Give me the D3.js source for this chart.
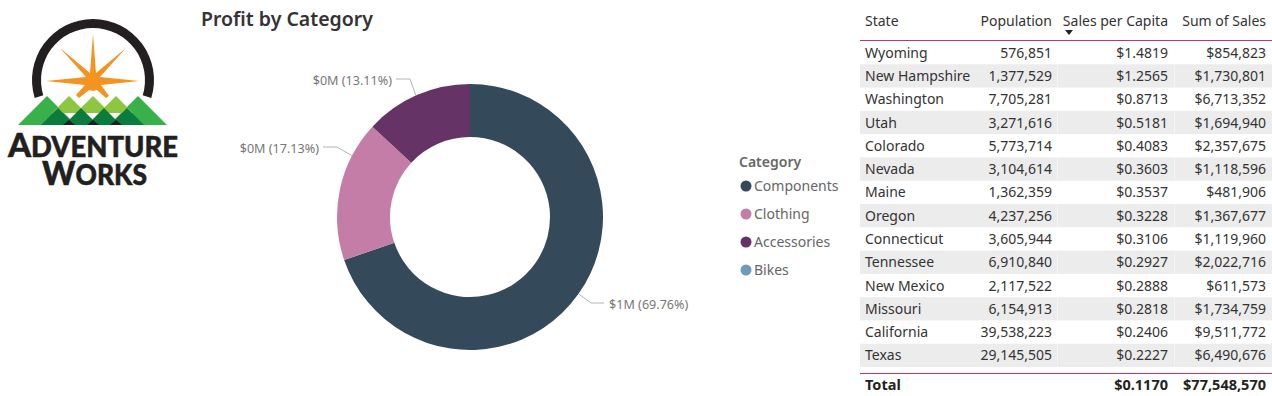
<!DOCTYPE html>
<html>
<head>
<meta charset="utf-8">
<script src="https://cdn.jsdelivr.net/npm/d3@7"></script>
<style>
  html, body { margin: 0; padding: 0; background: #fff; overflow: hidden; }
  text { font-family: "Noto Sans", "Open Sans", sans-serif; }
</style>
</head>
<body>
<script>
// donut
const categories = ["Components", "Clothing", "Accessories", "Bikes"];
const profitShare = [69.76, 17.13, 13.11, 0];
const profitLabels = ["$1M", "$0M", "$0M", ""];
const categoryColors = ["#34495a", "#c47da6", "#663366", "#6f9bbb"];

// table
const columns = ["State", "Population", "Sales per Capita", "Sum of Sales"];
const states = ["Wyoming", "New Hampshire", "Washington", "Utah", "Colorado", "Nevada", "Maine", "Oregon", "Connecticut", "Tennessee", "New Mexico", "Missouri", "California", "Texas"];
const population = ["576,851", "1,377,529", "7,705,281", "3,271,616", "5,773,714", "3,104,614", "1,362,359", "4,237,256", "3,605,944", "6,910,840", "2,117,522", "6,154,913", "39,538,223", "29,145,505"];
const salesPerCapita = ["$1.4819", "$1.2565", "$0.8713", "$0.5181", "$0.4083", "$0.3603", "$0.3537", "$0.3228", "$0.3106", "$0.2927", "$0.2888", "$0.2818", "$0.2406", "$0.2227"];
const sumOfSales = ["$854,823", "$1,730,801", "$6,713,352", "$1,694,940", "$2,357,675", "$1,118,596", "$481,906", "$1,367,677", "$1,119,960", "$2,022,716", "$611,573", "$1,734,759", "$9,511,772", "$6,490,676"];
const totals = ["Total", "", "$0.1170", "$77,548,570"];

const svg = d3.select("body").append("svg")
    .attr("width", 1272)
    .attr("height", 396);

/* ---------- logo ---------- */
const logo = svg.append("g");
logo.append("path")
    .attr("d", d3.arc()({ innerRadius: 52, outerRadius: 61, startAngle: -1.87, endAngle: 1.87 }))
    .attr("transform", "translate(93,80)")
    .attr("fill", "#231f20");

// estrella
const star = [[93, 34], [96, 73], [126, 48], [100, 77], [139, 81], [101, 85], [109, 96], [106, 98], [97, 90], [93, 91], [89, 90], [79, 98], [76, 95], [85, 85], [46, 81], [86, 77], [60, 48], [90, 73]];
logo.append("polygon")
    .attr("points", star.join(" "))
    .attr("fill", "#f39321");

const tri = (apex, top, half, base, color) => logo.append("polygon")
    .attr("points", [[apex - half, base], [apex, top], [apex + half, base]].join(" "))
    .attr("fill", color);
tri(47, 96, 29, 125, "#39b14a");
tri(138, 96, 29, 125, "#39b14a");
[69, 93, 116].forEach(x => tri(x, 96, 17, 113, "#8dc63f"));
[58, 81, 104, 127].forEach(x => tri(x, 108, 17, 125, "#0b7b3e")); // montes oscuros
[69, 93, 116].forEach(x => tri(x, 120, 6, 125, "#231f20"));

function logoWord(first, rest, x, y, width) {
    const t = logo.append("text")
        .attr("x", x).attr("y", y)
        .attr("textLength", width)
        .attr("lengthAdjust", "spacingAndGlyphs")
        .attr("fill", "#231f20")
        .attr("stroke", "#231f20")
        .attr("stroke-width", 0.5)
        .style("font-family", "Lato, sans-serif")
        .style("font-weight", 900);
    t.append("tspan").attr("font-size", 33).text(first);
    t.append("tspan").attr("font-size", 27.5).text(rest);
}
logoWord("A", "DVENTURE", 8, 157, 170);
logoWord("W", "ORKS", 42, 185, 105);

/* ---------- titulo ---------- */
svg.append("text")
    .attr("x", 201).attr("y", 26)
    .attr("font-size", 19.5)
    .attr("font-weight", 600)
    .attr("fill", "#333")
    .text("Profit by Category");

/* ---------- dona ---------- */
const cx = 470, cy = 217, outerR = 133, innerR = 80;
const pie = d3.pie().sort(null).value(d => d.share);
const arc = d3.arc().innerRadius(innerR).outerRadius(outerR);
const slices = pie(categories.map((c, i) => ({ name: c, share: profitShare[i], label: profitLabels[i], color: categoryColors[i] })));

const donut = svg.append("g").attr("transform", `translate(${cx},${cy})`);
donut.selectAll("path")
    .data(slices)
    .join("path")
    .attr("d", arc)
    .attr("fill", d => d.data.color);

// punto de salida de cada linea guia, en grados desde arriba
const leaderAngle = { Components: 125.3, Clothing: 297.5, Accessories: 336 };
const leaderElbow = { Components: [591, 303], Clothing: [337, 147], Accessories: [410, 79] };
const leaderEnd = { Components: [604, 303], Clothing: [323, 147], Accessories: [396, 79] };

slices.filter(d => d.data.share > 0).forEach(d => {
    const n = d.data.name;
    const a = leaderAngle[n] * Math.PI / 180;
    const p0 = [cx + outerR * Math.sin(a), cy - outerR * Math.cos(a)];
    svg.append("path")
        .attr("d", d3.line()([p0, leaderElbow[n], leaderEnd[n]]))
        .attr("fill", "none")
        .attr("stroke", "#b3b3b3")
        .attr("stroke-width", 1);
    const right = n === "Components";
    svg.append("text")
        .attr("x", leaderEnd[n][0] + (right ? 5 : -4))
        .attr("y", leaderEnd[n][1] + 6)
        .attr("text-anchor", right ? "start" : "end")
        .attr("font-size", 12.6)
        .attr("fill", "#777")
        .text(`${d.data.label} (${d.data.share.toFixed(2)}%)`);
});

/* ---------- leyenda ---------- */
svg.append("text")
    .attr("x", 739).attr("y", 167)
    .attr("font-size", 14)
    .attr("font-weight", 600)
    .attr("fill", "#666")
    .text("Category");

const legendY = d3.scalePoint().domain(categories).range([186, 270]);
const legend = svg.selectAll("g.legend")
    .data(categories)
    .join("g")
    .attr("class", "legend")
    .attr("transform", d => `translate(0,${legendY(d)})`);
legend.append("circle")
    .attr("cx", 746).attr("cy", 0).attr("r", 5.5)
    .attr("fill", (d, i) => categoryColors[i]);
legend.append("text")
    .attr("x", 754).attr("y", 5)
    .attr("font-size", 14)
    .attr("fill", "#666")
    .text(d => d);

/* ---------- tabla ---------- */
const rowY = d3.scaleBand().domain(states).range([41, 367]);
const tableLeft = 860, tableRight = 1272;
const bandStates = states.filter((d, i) => i % 2 === 1);

svg.selectAll("rect.band")
    .data(bandStates)
    .join("rect")
    .attr("class", "band")
    .attr("x", tableLeft).attr("y", d => rowY(d))
    .attr("width", tableRight - tableLeft).attr("height", rowY.bandwidth())
    .attr("fill", "#ececec");

// separadores de columna, solo se notan sobre las bandas grises
[1057.5, 1174.5].forEach(x => {
    bandStates.forEach(s => {
        svg.append("line")
            .attr("x1", x).attr("x2", x)
            .attr("y1", rowY(s)).attr("y2", rowY(s) + rowY.bandwidth())
            .attr("stroke", "#f4f4f4")
            .attr("stroke-width", 1);
    });
});

const colX = [865, 1052, 1168, 1266];
const colAnchor = ["start", "end", "end", "end"];
const rows = states.map((s, i) => [s, population[i], salesPerCapita[i], sumOfSales[i]]);

const table = svg.append("g").attr("font-size", 14).attr("fill", "#333");

columns.forEach((c, i) => {
    table.append("text")
        .attr("x", colX[i]).attr("y", 26)
        .attr("text-anchor", colAnchor[i])
        .text(c);
});
// flecha de orden
table.append("polygon")
    .attr("points", "1065,30 1073,30 1069,35")
    .attr("fill", "#222");

rows.forEach((r, j) => {
    r.forEach((v, i) => {
        table.append("text")
            .attr("x", colX[i]).attr("y", rowY(states[j]) + rowY.bandwidth() / 2 + 5)
            .attr("text-anchor", colAnchor[i])
            .text(v);
    });
});

totals.forEach((v, i) => {
    table.append("text")
        .attr("x", colX[i]).attr("y", 390)
        .attr("text-anchor", colAnchor[i])
        .attr("font-size", 14.5)
        .attr("font-weight", 700)
        .attr("fill", "#222")
        .text(v);
});

[40.5, 373.5].forEach(y => {
    svg.append("line")
        .attr("x1", tableLeft).attr("x2", tableRight)
        .attr("y1", y).attr("y2", y)
        .attr("stroke", "#c2326f")
        .attr("stroke-width", 1);
});
</script>
</body>
</html>
